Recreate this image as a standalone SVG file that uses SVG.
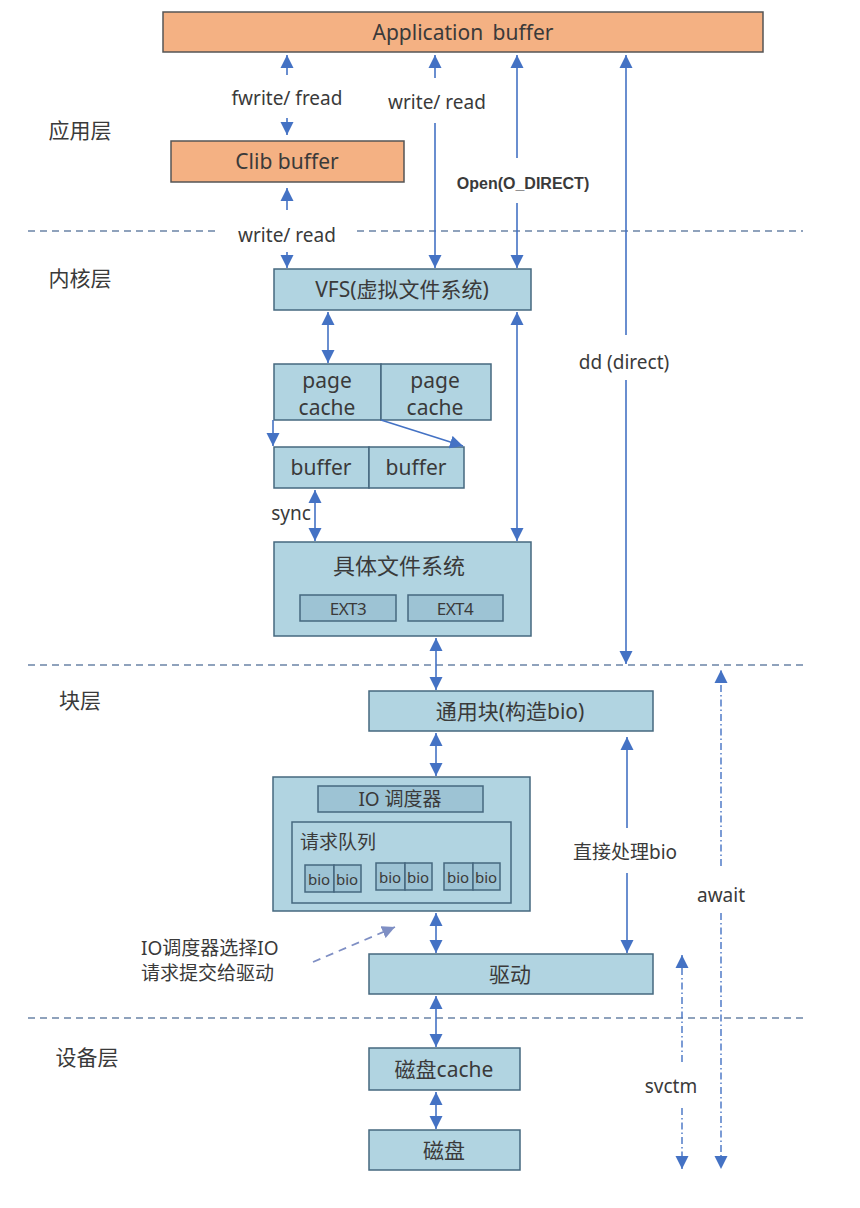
<svg xmlns="http://www.w3.org/2000/svg" width="860" height="1208" viewBox="0 0 860 1208">
<style>
text{font-family:"Noto Sans","Noto Sans CJK SC",sans-serif;fill:#3a3a3a;text-anchor:middle;dominant-baseline:central}
.org{fill:#F4B183;stroke:#555555;stroke-width:1.5}
.blu{fill:#B1D4E1;stroke:#46687f;stroke-width:1.5}
.dk{fill:#9DC3D4;stroke:#46687f;stroke-width:1.5}
.sep{stroke:#8FA2BC;stroke-width:2;stroke-dasharray:7 5;fill:none}
.ar{stroke:#4472C4;stroke-width:1.6;fill:none}
.dd{stroke:#4472C4;stroke-width:1.4;fill:none;stroke-dasharray:7 3 1.5 3}
.ds{stroke:#7f8fc4;stroke-width:1.8;fill:none;stroke-dasharray:8 6}
.lay{font-size:21px}
.bx{font-size:21px}
.lb{font-size:19px}
.ext{font-size:17px;letter-spacing:-0.5px}
</style>
<defs>
<marker id="ah" markerUnits="userSpaceOnUse" markerWidth="13" markerHeight="14" refX="13" refY="7" orient="auto-start-reverse" viewBox="0 0 13 14">
<path d="M0,0.5 L13,7 L0,13.5 z" fill="#4472C4"/>
</marker>
<marker id="ah2" markerUnits="userSpaceOnUse" markerWidth="13" markerHeight="14" refX="13" refY="7" orient="auto" viewBox="0 0 13 14">
<path d="M0,0.5 L13,7 L0,13.5 z" fill="#7f8fc4"/>
</marker>
</defs>
<rect width="860" height="1208" fill="#ffffff"/>

<g id="separators">
<line class="sep" x1="28" y1="231" x2="218" y2="231"/>
<line class="sep" x1="357" y1="231" x2="803" y2="231"/>
<line class="sep" x1="28" y1="665" x2="803" y2="665"/>
<line class="sep" x1="28" y1="1018" x2="803" y2="1018"/>
</g>

<g id="layers">
<text class="lay" x="80" y="130">应用层</text>
<text class="lay" x="80" y="278">内核层</text>
<text class="lay" x="80" y="700">块层</text>
<text class="lay" x="87" y="1057">设备层</text>
</g>

<g id="app-buffer"><rect class="org" x="163" y="12" width="600" height="40"/><text class="bx" x="463" y="32" style="word-spacing:4px">Application buffer</text></g>
<g id="clib-buffer"><rect class="org" x="171" y="141" width="233" height="41"/><text class="bx" x="287" y="161">Clib buffer</text></g>
<g id="vfs"><rect class="blu" x="274" y="269" width="257" height="41"/><text class="bx" x="402" y="289">VFS(虚拟文件系统)</text></g>
<g id="page-cache-1"><rect class="blu" x="274" y="364" width="107" height="56"/><text class="bx" x="327" y="380">page</text><text class="bx" x="327" y="407">cache</text></g>
<g id="page-cache-2"><rect class="blu" x="381" y="364" width="110" height="56"/><text class="bx" x="435" y="380">page</text><text class="bx" x="435" y="407">cache</text></g>
<g id="buffer-1"><rect class="blu" x="274" y="447" width="95" height="41"/><text class="bx" x="321" y="467">buffer</text></g>
<g id="buffer-2"><rect class="blu" x="369" y="447" width="95" height="41"/><text class="bx" x="416" y="467">buffer</text></g>
<g id="concrete-fs"><rect class="blu" x="274" y="542" width="257" height="94"/><text class="bx" x="399" y="565" style="font-size:22px">具体文件系统</text>
<rect class="dk" x="300" y="595" width="96" height="26"/><text class="ext" x="348" y="608">EXT3</text>
<rect class="dk" x="408" y="595" width="95" height="26"/><text class="ext" x="455" y="608">EXT4</text></g>
<g id="generic-block"><rect class="blu" x="369" y="691" width="284" height="40"/><text class="bx" x="510" y="711">通用块(构造bio)</text></g>
<g id="io-scheduler"><rect class="blu" x="273" y="777" width="257" height="134"/>
<rect class="dk" x="318" y="786" width="165" height="26"/><text class="lb" x="400" y="799">IO 调度器</text>
<rect class="blu" x="292" y="822" width="219" height="81"/><text class="lb" x="300" y="842" style="text-anchor:start">请求队列</text>
<rect class="dk" x="305" y="865" width="29" height="27"/><rect class="dk" x="334" y="865" width="27" height="27"/>
<text x="319" y="879" style="font-size:15px">bio</text><text x="347" y="879" style="font-size:15px">bio</text>
<rect class="dk" x="376" y="863" width="29" height="27"/><rect class="dk" x="405" y="863" width="27" height="27"/>
<text x="390" y="877" style="font-size:15px">bio</text><text x="418" y="877" style="font-size:15px">bio</text>
<rect class="dk" x="444" y="863" width="29" height="27"/><rect class="dk" x="473" y="863" width="27" height="27"/>
<text x="458" y="877" style="font-size:15px">bio</text><text x="486" y="877" style="font-size:15px">bio</text></g>
<g id="driver"><rect class="blu" x="369" y="954" width="284" height="40"/><text class="bx" x="510" y="974">驱动</text></g>
<g id="disk-cache"><rect class="blu" x="369" y="1048" width="151" height="42"/><text class="bx" x="444" y="1069">磁盘cache</text></g>
<g id="disk"><rect class="blu" x="369" y="1130" width="151" height="40"/><text class="bx" x="444" y="1150">磁盘</text></g>

<g id="connectors">
<line class="ar" x1="287" y1="75" x2="287" y2="55" marker-end="url(#ah)"/>
<line class="ar" x1="287" y1="118" x2="287" y2="135" marker-end="url(#ah)"/>
<line class="ar" x1="287" y1="210" x2="287" y2="188" marker-end="url(#ah)"/>
<line class="ar" x1="287" y1="252" x2="287" y2="268" marker-end="url(#ah)"/>
<line class="ar" x1="435" y1="78" x2="435" y2="55" marker-end="url(#ah)"/>
<line class="ar" x1="435" y1="123" x2="435" y2="268" marker-end="url(#ah)"/>
<line class="ar" x1="517" y1="158" x2="517" y2="55" marker-end="url(#ah)"/>
<line class="ar" x1="517" y1="203" x2="517" y2="268" marker-end="url(#ah)"/>
<line class="ar" x1="626" y1="335" x2="626" y2="55" marker-end="url(#ah)"/>
<line class="ar" x1="626" y1="380" x2="626" y2="664" marker-end="url(#ah)"/>
<line class="ar" x1="328" y1="312" x2="328" y2="363" marker-start="url(#ah)" marker-end="url(#ah)"/>
<line class="ar" x1="273" y1="420" x2="273" y2="446" marker-end="url(#ah)"/>
<line class="ar" x1="381" y1="420" x2="463" y2="446" marker-end="url(#ah)"/>
<line class="ar" x1="315" y1="490" x2="315" y2="541" marker-start="url(#ah)" marker-end="url(#ah)"/>
<line class="ar" x1="517" y1="312" x2="517" y2="541" marker-start="url(#ah)" marker-end="url(#ah)"/>
<line class="ar" x1="436" y1="638" x2="436" y2="690" marker-start="url(#ah)" marker-end="url(#ah)"/>
<line class="ar" x1="436" y1="733" x2="436" y2="776" marker-start="url(#ah)" marker-end="url(#ah)"/>
<line class="ar" x1="627" y1="828" x2="627" y2="737" marker-end="url(#ah)"/>
<line class="ar" x1="627" y1="873" x2="627" y2="953" marker-end="url(#ah)"/>
<line class="ar" x1="436" y1="913" x2="436" y2="953" marker-start="url(#ah)" marker-end="url(#ah)"/>
<line class="ds" x1="313" y1="962" x2="395" y2="927" marker-end="url(#ah2)"/>
<line class="ar" x1="436" y1="996" x2="436" y2="1047" marker-start="url(#ah)" marker-end="url(#ah)"/>
<line class="ar" x1="436" y1="1092" x2="436" y2="1129" marker-start="url(#ah)" marker-end="url(#ah)"/>
<line class="dd" x1="682" y1="1062" x2="682" y2="955" marker-end="url(#ah)"/>
<line class="dd" x1="682" y1="1108" x2="682" y2="1169" marker-end="url(#ah)"/>
<line class="dd" x1="721" y1="866" x2="721" y2="670" marker-end="url(#ah)"/>
<line class="dd" x1="721" y1="913" x2="721" y2="1169" marker-end="url(#ah)"/>
</g>

<g id="labels">
<text class="lb" x="287" y="98">fwrite/ fread</text>
<text class="lb" x="437" y="102">write/ read</text>
<text x="523" y="183" style="font-size:16px;font-weight:bold;font-family:'Liberation Sans',sans-serif">Open(O_DIRECT)</text>
<text class="lb" x="287" y="235">write/ read</text>
<text class="lb" x="624" y="362">dd (direct)</text>
<text class="lb" x="291" y="513">sync</text>
<text class="lb" x="625" y="852">直接处理bio</text>
<text class="lb" x="721" y="895">await</text>
<text class="lb" x="671" y="1086">svctm</text>
<text class="lb" x="141" y="948" style="text-anchor:start">IO调度器选择IO</text>
<text class="lb" x="141" y="973" style="text-anchor:start">请求提交给驱动</text>
</g>
</svg>
